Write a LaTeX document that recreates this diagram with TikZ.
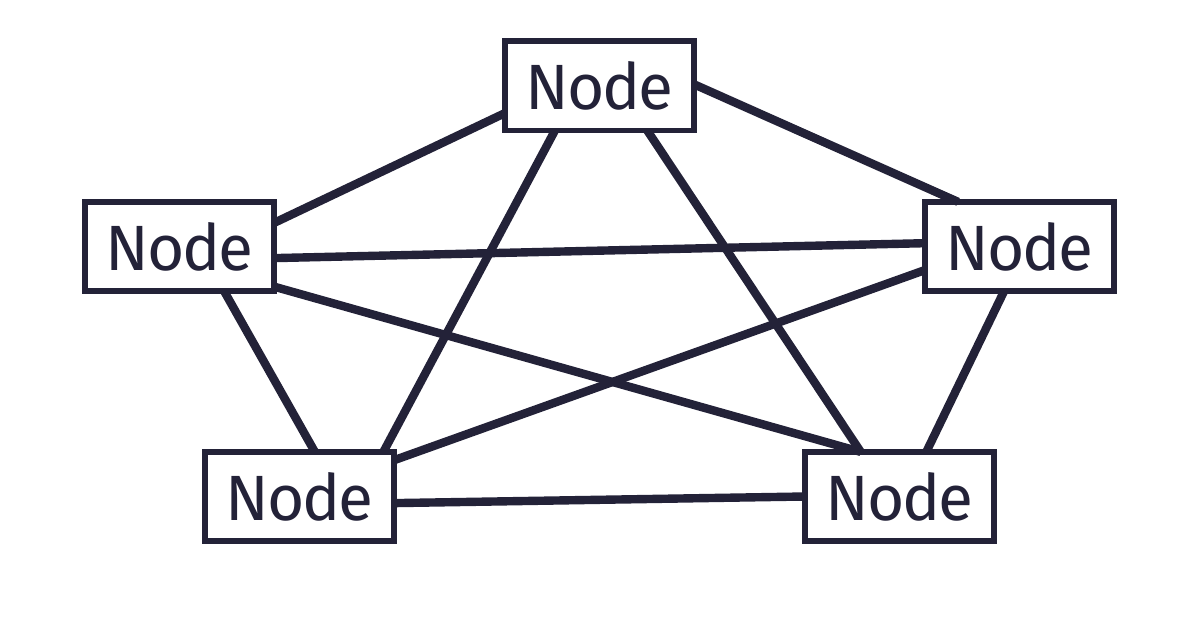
\documentclass[tikz,border=0pt]{standalone}
\usepackage{fontspec}
\setmainfont{Fira Sans}[LetterSpace=-3]
\definecolor{ink}{RGB}{35,34,56}
\begin{document}
\begin{tikzpicture}[x=0.5pt,y=-0.5pt,
  box/.style={draw=ink,line width=2.9pt,fill=white,minimum width=94.6pt,
    minimum height=44.6pt,inner sep=0pt,outer sep=0pt,text=ink,
    font=\fontsize{32}{38}\selectfont},
  link/.style={draw=ink,line width=4.2pt}]
\useasboundingbox (0,0) rectangle (1200,630);
\node[box] (t)  at (599.5,86)    {Node};
\node[box] (l)  at (179.5,246.5) {Node};
\node[box] (r)  at (1019.5,246.5){Node};
\node[box] (bl) at (299.5,496.5) {Node};
\node[box] (br) at (899.5,496.5) {Node};
% connections between every pair of nodes
\draw[link] (t.196.8) -- (l.14.9);
\draw[link] (t.1) -- (r.144.3);
\draw[link] (t.225.3) -- (bl.28.4);
\draw[link] (t.317.9) -- (br.131.9);
\draw[link] (l.353.4) -- (r.178.6);
\draw[link] (l.315) -- (bl.71.6);
\draw[link] (l.337.4) -- (br.131.9);
\draw[link] (r.194.4) -- (bl.21);
\draw[link] (r.251.6) -- (br.59.2);
\draw[link] (bl.356.9) -- (br.180.3);
\end{tikzpicture}
\end{document}
